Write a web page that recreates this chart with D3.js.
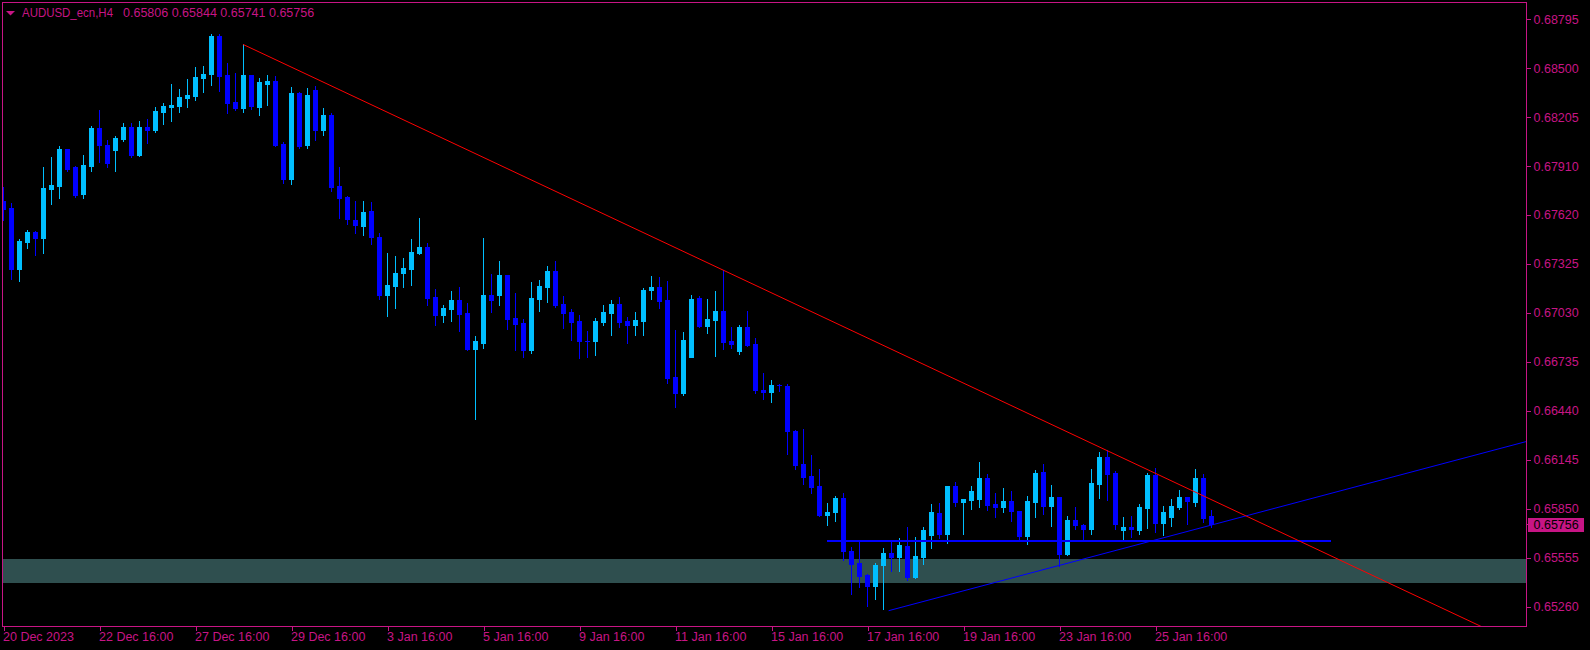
<!DOCTYPE html>
<html><head><meta charset="utf-8">
<script src="https://cdn.jsdelivr.net/npm/d3@7/dist/d3.min.js"></script>
<style>
html,body{margin:0;padding:0;background:#000;overflow:hidden;}
svg{display:block;}
text{font-family:"Liberation Sans",Arial,sans-serif;}
</style></head>
<body>
<script>
// ---------- DATA ----------
const symbolTitle = "AUDUSD_ecn,H4";
const opens = [.67701,.67659,.67292,.67457,.67515,.67481,.67775,.67793,.68014,.67906,
.67745,.67914,.68143,.68038,.6801,.68075,.68147,.67978,.68147,.68131,
.68239,.68267,.68275,.68323,.68335,.68443,.68468,.68694,.6846,.68299,
.68263,.6846,.68267,.68407,.68424,.68046,.67832,.68351,.68038,.68369,
.68129,.68219,.67792,.67725,.67587,.67553,.67641,.67485,.67136,.67192,
.67268,.67292,.67387,.67425,.67124,.67015,.67051,.67106,.67027,.66811,
.66847,.67136,.67136,.67256,.66997,.66967,.66805,.67112,.67184,.6728,
.67082,.67033,.66979,.66859,.66859,.66973,.67027,.67082,.66979,.66955,
.66979,.67166,.67184,.67106,.66642,.66546,.66764,.67118,.66949,.66985,
.67039,.66859,.66799,.66943,.66841,.66564,.66552,.66594,.66588,.66317,
.66119,.66046,.65986,.65812,.6583,.65914,.65595,.65523,.65451,.65384,
.65511,.65583,.65559,.65625,.65439,.65559,.65691,.65824,.65697,.65986,
.6589,.65902,.65908,.66034,.65878,.6586,.65896,.65836,.65685,.6589,
.6607,.65866,.6592,.65577,.65782,.65752,.65728,.65998,.66161,.66064,
.65722,.6574,.65722,.65854,.66052,.65764,.658,.6586,.6592,.6589,
.66034,.65806];
const highs = [.67786,.67689,.67473,.67527,.67521,.67906,.67966,.68032,.68016,.67914,
.67978,.68155,.68251,.68067,.68094,.68171,.68171,.68183,.68195,.68267,
.68291,.68407,.68375,.68436,.68508,.68516,.68705,.68708,.68532,.68472,
.68644,.6846,.6844,.6846,.68452,.68055,.68387,.68355,.68381,.68393,
.68261,.68231,.67906,.6773,.67701,.67701,.67697,.67509,.67388,.67369,
.67358,.67473,.67599,.67449,.67172,.67076,.6716,.67184,.67088,.66889,
.67479,.67262,.6734,.67256,.67148,.66991,.67214,.67226,.6731,.6734,
.6713,.67051,.67015,.66919,.66997,.67076,.67106,.67124,.67003,.67033,
.67178,.6725,.67244,.6722,.66925,.66913,.67136,.6713,.67112,.6716,
.67286,.66943,.66955,.67039,.66877,.66666,.66624,.66603,.666,.66323,
.66329,.66173,.66089,.65884,.65926,.65944,.65619,.65649,.65457,.65523,
.65613,.65649,.65673,.6574,.65679,.6574,.65878,.65884,.65986,.6601,
.65908,.65986,.66131,.66058,.65944,.65974,.65956,.65836,.65926,.66082,
.66119,.65992,.6592,.65806,.6586,.65758,.66089,.66191,.66203,.66076,
.658,.65806,.65878,.66064,.66095,.65866,.65908,.65962,.6592,.66089,
.66058,.65844];
const lows = [.67587,.67232,.6722,.6742,.67376,.6739,.67685,.67721,.67884,.67725,
.67721,.67882,.67938,.67906,.67882,.68063,.67966,.67974,.6805,.68118,
.68167,.68185,.68239,.68267,.68311,.68359,.684,.68363,.68231,.68251,
.68239,.68255,.68219,.68279,.68034,.6781,.67806,.6802,.6802,.68069,
.68099,.67763,.67599,.67565,.67509,.67497,.67444,.67112,.67011,.67059,
.67186,.67196,.67382,.67076,.66955,.66973,.66979,.66919,.66807,.66391,
.66817,.67033,.67076,.66931,.66805,.66763,.66787,.67039,.67094,.67064,
.66937,.66865,.66757,.66763,.66775,.66955,.66895,.66943,.66847,.66895,
.66895,.67112,.67058,.66606,.66462,.66534,.66763,.66943,.66907,.66769,
.66811,.66817,.66781,.66829,.66546,.6651,.66492,.66558,.66179,.66089,
.65998,.65944,.65806,.65752,.65776,.65541,.65338,.65378,.65264,.65306,
.65246,.65475,.65475,.65421,.65433,.65517,.65613,.65673,.65643,.65866,
.65697,.65848,.6586,.65842,.658,.6583,.65776,.65661,.65637,.658,
.65818,.65746,.65505,.65571,.65728,.65661,.65697,.65914,.65902,.65728,
.65661,.65679,.65697,.65734,.65709,.65691,.65746,.65848,.65758,.65866,
.6577,.65741];
const closes = [.67653,.67292,.67461,.67515,.67481,.6778,.67798,.68014,.67894,.67738,
.67918,.68143,.68038,.6793,.68081,.68147,.67978,.68147,.68131,.68243,
.68273,.68279,.68327,.68339,.68448,.68468,.68694,.68455,.68291,.68263,
.6846,.68275,.68419,.68425,.68038,.67832,.68351,.68034,.68339,.68129,
.68219,.67786,.67721,.67593,.67557,.67635,.67485,.67136,.67196,.67268,
.67298,.67394,.67425,.6712,.67015,.67058,.67106,.67021,.66811,.66859,
.67136,.67106,.67256,.66991,.66961,.66805,.67118,.6719,.6728,.67076,
.67027,.66973,.66859,.66859,.66979,.67033,.67082,.66973,.66955,.66985,
.67166,.67184,.671,.66636,.66546,.66865,.67112,.66949,.66991,.67039,
.66853,.66841,.66943,.66835,.66564,.66552,.66594,.66594,.66317,.66113,
.6604,.6598,.65812,.6583,.65914,.65595,.65517,.65445,.65384,.65511,
.65583,.65559,.65631,.65439,.65565,.65722,.6583,.65697,.65986,.6589,
.65908,.65956,.66034,.6587,.6586,.65896,.65836,.65685,.65896,.66064,
.65866,.6592,.65577,.65782,.65752,.65728,.66004,.66161,.66058,.65758,
.6574,.65728,.6586,.66052,.65764,.6583,.65866,.6592,.65896,.66034,
.65794,.65756];

const xTickBars   = [0,12,24,36,48,60,72,84,96,108,120,132,144];
const xTickLabels = ["20 Dec 2023","22 Dec 16:00","27 Dec 16:00","29 Dec 16:00","3 Jan 16:00",
  "5 Jan 16:00","9 Jan 16:00","11 Jan 16:00","15 Jan 16:00","17 Jan 16:00",
  "19 Jan 16:00","23 Jan 16:00","25 Jan 16:00"];
const yTickValues = [0.68795,0.68500,0.68205,0.67910,0.67620,0.67325,0.67030,
  0.66735,0.66440,0.66145,0.65850,0.65555,0.65260];

// drawn objects (bar index, price)
const redTrend   = [[30, 0.68644],[90, 0.67286]];     // ray to the right
const blueTrend  = [[110.7, 0.65236],[132, 0.65508]]; // ray to the right
const hLine      = [[103, 0.65657],[166, 0.65657]];   // segment
const zone       = [0.65547, 0.65404];                // rectangle price band

// ---------- LAYOUT ----------
const W = 1590, H = 650;
const plot = {left: 2, top: 2, right: 1526, bottom: 626};
const C = {bg:"#000", fg:"#C71585", bull:"#00BFFF", bear:"#0000FF",
           red:"#FF0000", blue:"#0000FF", zone:"#2F4F4F"};
const FONT = 12.5;

const svg = d3.select("body").append("svg").attr("width", W).attr("height", H)
  .style("background", C.bg);

const x = d3.scaleLinear().domain([0, 190]).range([3, 3 + 8*190]);
const y = d3.scaleLinear().domain([0.65260, 0.68795]).range([606.7, 19.3]);

svg.append("defs").append("clipPath").attr("id","clip")
  .append("rect").attr("x", plot.left+1).attr("y", plot.top+1)
  .attr("width", plot.right-plot.left-1).attr("height", plot.bottom-plot.top-1);

const g = svg.append("g").attr("clip-path","url(#clip)").attr("shape-rendering","crispEdges");

// zone
g.append("rect").attr("x", plot.left).attr("width", plot.right-plot.left)
  .attr("y", Math.round(y(zone[0]))).attr("height", Math.round(y(zone[1]))-Math.round(y(zone[0])))
  .attr("fill", C.zone);

// candles
const bars = d3.range(opens.length).map(i => ({i, o:opens[i], h:highs[i], l:lows[i], c:closes[i]}));
const cg = g.append("g");
bars.forEach(d => {
  const col = d.c > d.o ? C.bull : C.bear;
  const cx = Math.round(x(d.i));
  const yh = Math.round(y(d.h)), yl = Math.round(y(d.l));
  cg.append("rect").attr("x", cx).attr("width", 1).attr("y", yh).attr("height", yl-yh+1).attr("fill", col);
  const yt = Math.round(y(Math.max(d.o,d.c))), yb = Math.round(y(Math.min(d.o,d.c)));
  cg.append("rect").attr("x", cx-2).attr("width", 5).attr("y", yt).attr("height", Math.max(1, yb-yt+1)).attr("fill", col);
});

// lines
function ray(p, stroke, sw) {
  const [a,b] = p;
  const x1 = x(a[0]), y1 = y(a[1]), x2 = x(b[0]), y2 = y(b[1]);
  const k = (y2-y1)/(x2-x1);
  const xe = 2000;
  g.append("line").attr("x1",x1).attr("y1",y1).attr("x2",xe).attr("y2",y1+k*(xe-x1))
    .attr("stroke",stroke).attr("stroke-width",sw).attr("shape-rendering","auto");
}
g.append("line").attr("x1", x(hLine[0][0])).attr("x2", x(hLine[1][0]))
  .attr("y1", Math.round(y(hLine[0][1]))).attr("y2", Math.round(y(hLine[1][1])))
  .attr("stroke", C.blue).attr("stroke-width", 2);
ray(blueTrend, C.blue, 1);
ray(redTrend, C.red, 1);

// frame
svg.append("rect").attr("x", plot.left+0.5).attr("y", plot.top+0.5)
  .attr("width", plot.right-plot.left).attr("height", plot.bottom-plot.top)
  .attr("fill","none").attr("stroke", C.fg).attr("shape-rendering","crispEdges");

// y axis
const yAxis = d3.axisRight(y).tickValues(yTickValues).tickFormat(d3.format(".5f")).tickSize(4).tickPadding(3);
const ya = svg.append("g").attr("transform", `translate(${plot.right+0.5},0)`).call(yAxis);
ya.select(".domain").remove();
ya.selectAll("line").attr("stroke", C.fg).attr("shape-rendering","crispEdges");
ya.selectAll("text").attr("fill", C.fg).attr("font-size", FONT).attr("font-family","Liberation Sans, Arial, sans-serif");

// x axis
const xAxis = d3.axisBottom(x).tickValues(xTickBars).tickFormat((d,i)=>xTickLabels[i]).tickSize(4).tickPadding(2);
const xa = svg.append("g").attr("transform", `translate(0.5,${plot.bottom+0.5})`).call(xAxis);
xa.select(".domain").remove();
xa.selectAll("line").attr("stroke", C.fg).attr("shape-rendering","crispEdges");
xa.selectAll("text").attr("fill", C.fg).attr("font-size", FONT).attr("text-anchor","start")
  .attr("dx", -1).attr("font-family","Liberation Sans, Arial, sans-serif");

// current price label
const last = closes.length-1;
const yc = y(closes[last]);
svg.append("rect").attr("x", plot.right+2).attr("y", Math.round(yc)-6).attr("width", 56).attr("height", 14)
  .attr("fill", C.fg).attr("shape-rendering","crispEdges");
svg.append("line").attr("x1", plot.right+1).attr("x2", plot.right+5).attr("y1", Math.round(yc)+0.5).attr("y2", Math.round(yc)+0.5)
  .attr("stroke", C.fg);
svg.append("text").attr("x", plot.right+7.5).attr("y", Math.round(yc)+1).attr("dy","0.32em")
  .attr("font-size", FONT).attr("fill","#000").text(d3.format(".5f")(closes[last]));

// title
svg.append("path").attr("d","M6,11 L15,11 L10.5,15.5 Z").attr("fill", C.fg);
svg.append("text").attr("x", 22).attr("y", 17).attr("font-size", FONT).attr("fill", C.fg)
  .attr("textLength", 91).attr("lengthAdjust","spacingAndGlyphs")
  .text(symbolTitle);
svg.append("text").attr("x", 123).attr("y", 17).attr("font-size", FONT).attr("fill", C.fg)
  .text([opens[last], highs[last], lows[last], closes[last]].map(d3.format(".5f")).join(" "));
</script>
</body></html>
